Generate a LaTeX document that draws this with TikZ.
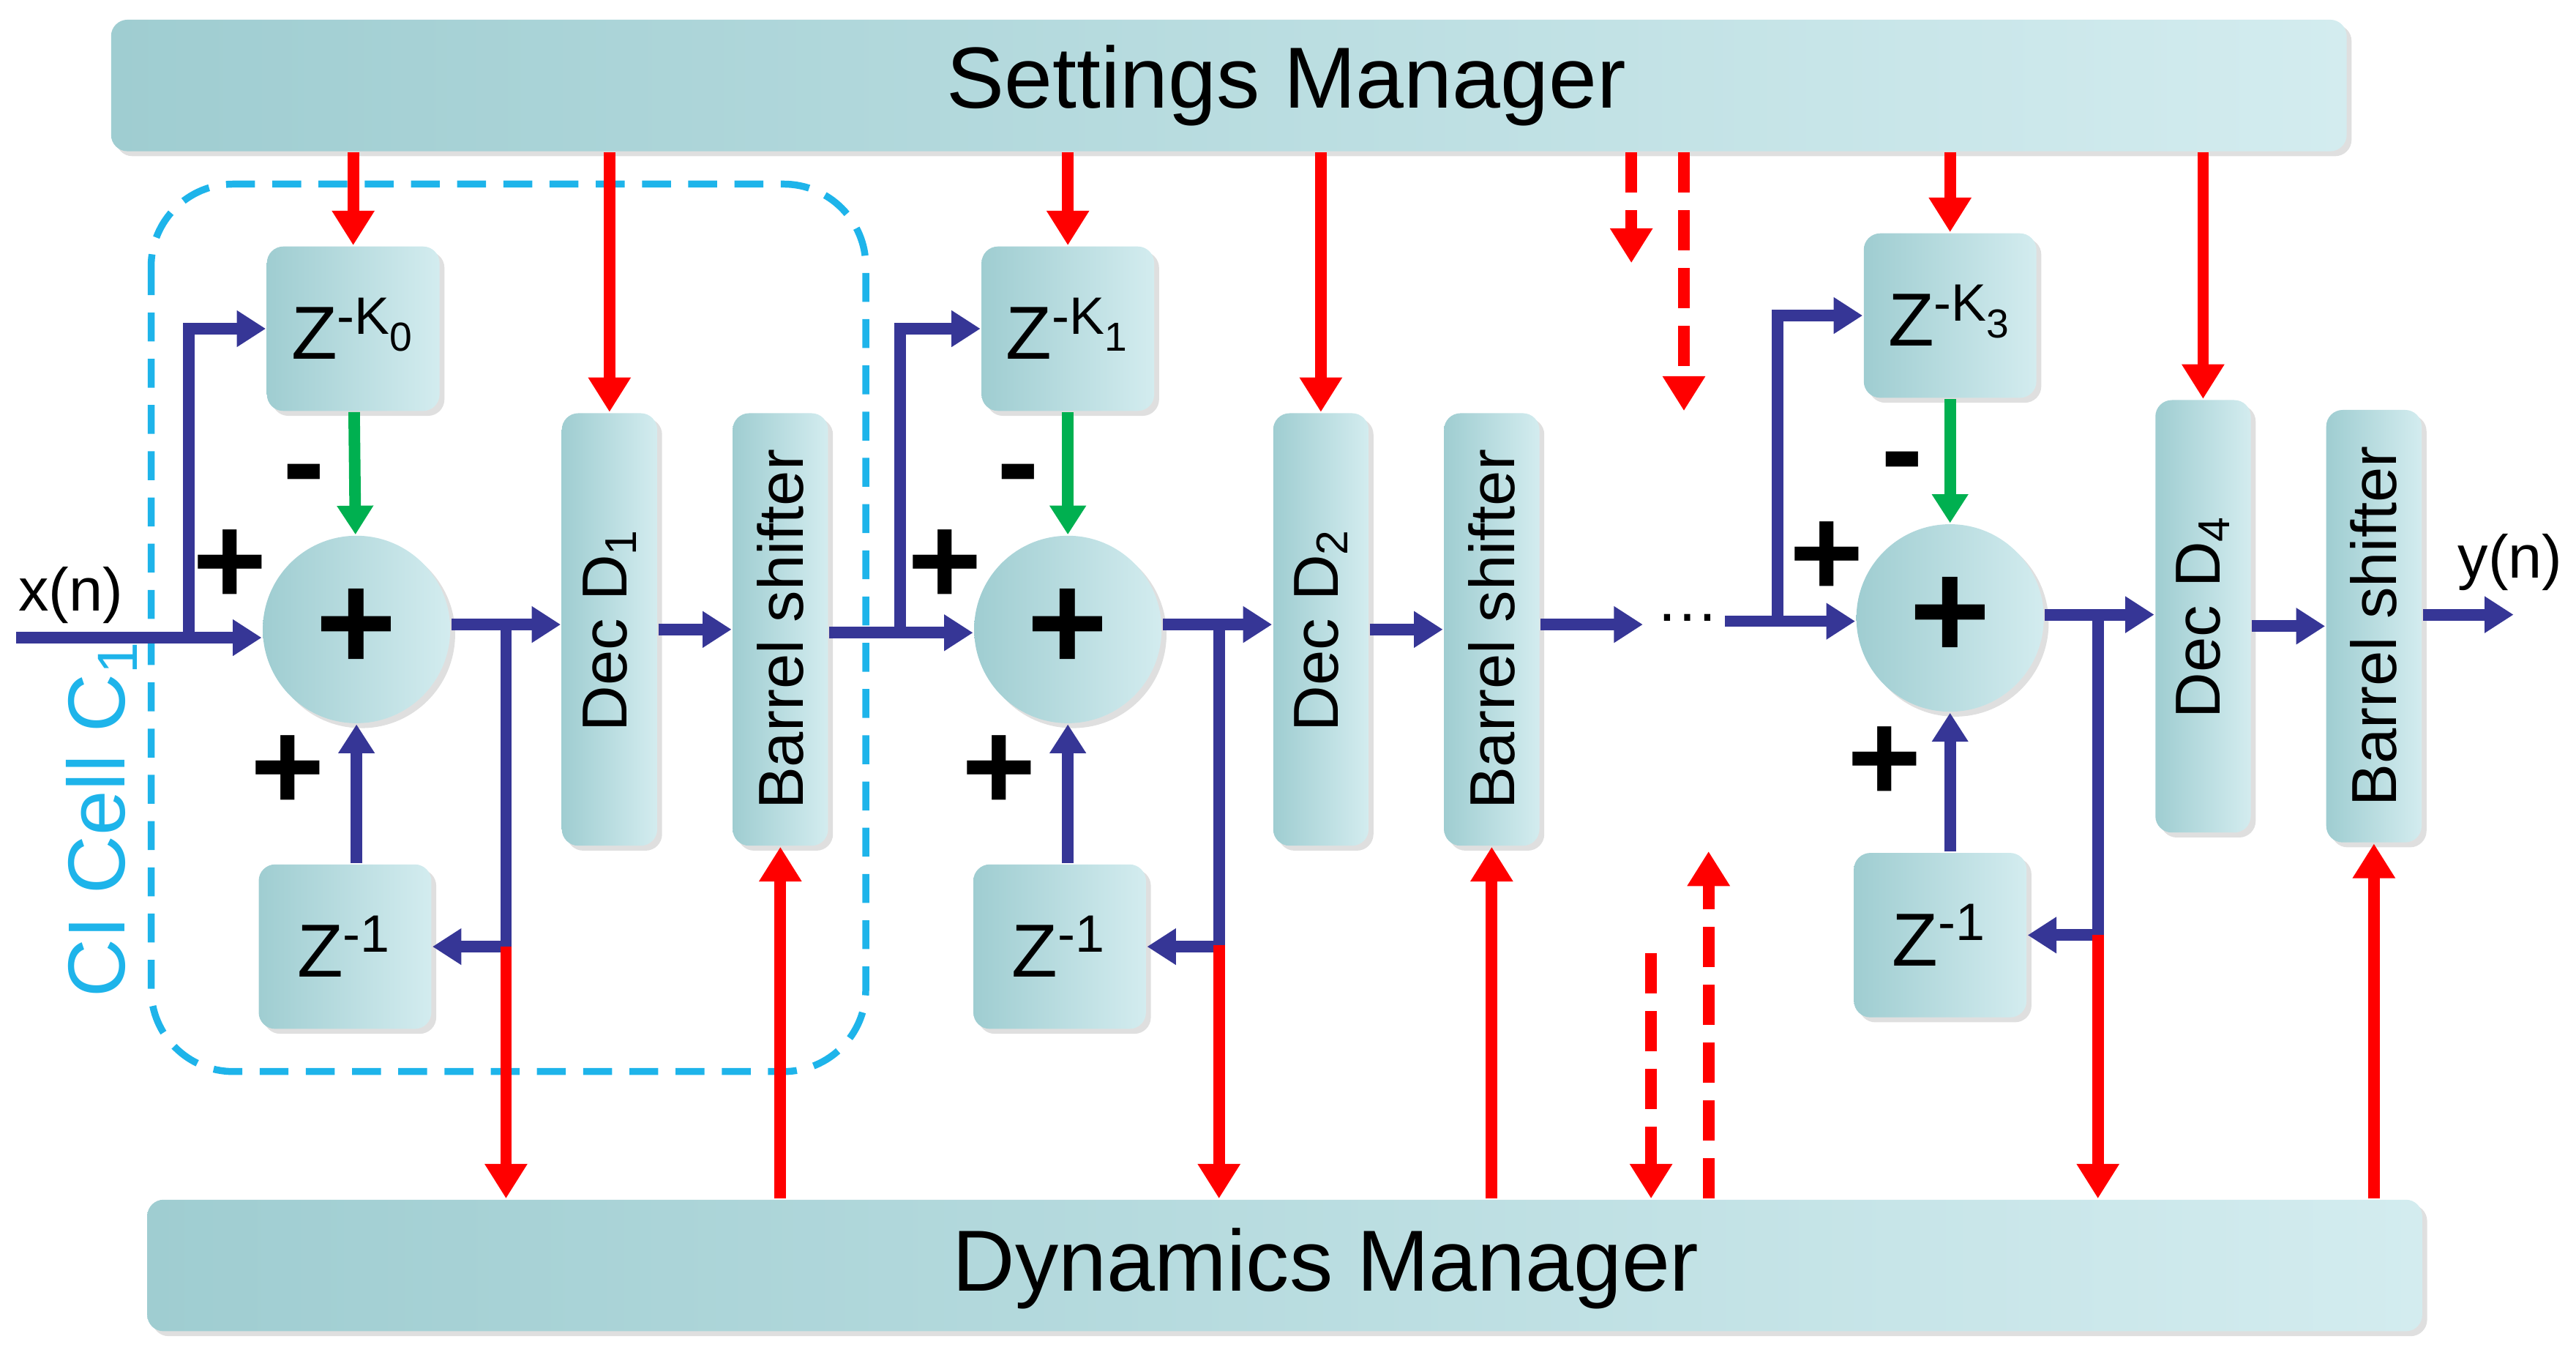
\documentclass[tikz,border=0pt]{standalone}
\usepackage{fontspec}
\setmainfont{Liberation Sans}
\usetikzlibrary{arrows.meta,shadows}
\begin{document}
\begin{tikzpicture}[x=0.01cm,y=-0.01cm,
 box/.style={rounded corners=0.1cm,left color=teal0,right color=teal1,draw=none,drop shadow={opacity=0.25,shadow xshift=0.03cm,shadow yshift=-0.03cm}},
 circ/.style={circle,shading=axis,left color=teal0,right color=teal1,minimum size=1.14cm,inner sep=0pt,font=\fontsize{24}{24}\selectfont\bfseries,drop shadow={opacity=0.25,shadow xshift=0.03cm,shadow yshift=-0.03cm}},
 zbox/.style={box,minimum width=1.05cm,minimum height=1.0cm,font=\fontsize{13}{13}\selectfont},
 vbox/.style={box,minimum width=0.58cm,minimum height=2.63cm},
 vtxt/.style={rotate=90,font=\fontsize{11}{11}\selectfont},
 blu/.style={draw=bluec,line width=2pt,-{Triangle[length=5pt,width=6pt]}},
 grn/.style={draw=greenc,line width=2pt,-{Triangle[length=5pt,width=6pt]}},
 red/.style={draw=red,line width=2pt,-{Triangle[length=6pt,width=7pt]}},
 redd/.style={red,dash pattern=on 7pt off 3pt},
 sgn/.style={font=\fontsize{22}{22}\selectfont\bfseries}]
\definecolor{teal0}{HTML}{9FCDD1}
\definecolor{teal1}{HTML}{D3ECEF}
\definecolor{bluec}{HTML}{363696}
\definecolor{greenc}{HTML}{00B050}
\definecolor{cyanc}{HTML}{1EB4EA}
\useasboundingbox (0,0) rectangle (1568,826);
% managers
\node[box,minimum width=13.6cm,minimum height=0.8cm] (sm) at (748,52) {};
\node[font=\fontsize{15}{15}\selectfont] (smt) at (783,52) {Settings Manager};
\node[box,minimum width=13.84cm,minimum height=0.8cm] (dm) at (782,770) {};
\node[font=\fontsize{15}{15}\selectfont] (dmt) at (807,772) {Dynamics Manager};
% dashed cell
\draw[cyanc,line width=1.2pt,dash pattern=on 5pt off 3pt,rounded corners=0.5cm] (92,112) rectangle (527,652);
\node[cyanc,rotate=90,font=\fontsize{14}{14}\selectfont] (cl) at (62,498) {CI Cell C\textsubscript{1}};
% cell 1
\node[zbox] (zk0) at (215,200) {Z\textsuperscript{-K\raisebox{-0.6ex}{\scriptsize 0}}};
\node[circ] (s1) at (217,383) {+};
\node[zbox] (zd1) at (210,576) {Z\textsuperscript{-1}};
\node[vbox] (d1) at (371,383) {}; \node[vtxt] (d1t) at (d1) {Dec D\textsubscript{1}};
\node[vbox] (b1) at (475,383) {}; \node[vtxt] (b1t) at (b1) {Barrel shifter};
% cell 2
\node[zbox] (zk1) at (650,200) {Z\textsuperscript{-K\raisebox{-0.6ex}{\scriptsize 1}}};
\node[circ] (s2) at (650,383) {+};
\node[zbox] (zd2) at (645,576) {Z\textsuperscript{-1}};
\node[vbox] (d2) at (804,383) {}; \node[vtxt] (d2t) at (d2) {Dec D\textsubscript{2}};
\node[vbox] (b2) at (908,383) {}; \node[vtxt] (b2t) at (b2) {Barrel shifter};
% cell 3
\node[zbox] (zk3) at (1187,192) {Z\textsuperscript{-K\raisebox{-0.6ex}{\scriptsize 3}}};
\node[circ] (s3) at (1187,376) {+};
\node[zbox] (zd3) at (1181,569) {Z\textsuperscript{-1}};
\node[vbox] (d3) at (1341,375) {}; \node[vtxt] (d3t) at (d3) {Dec D\textsubscript{4}};
\node[vbox] (b3) at (1445,381) {}; \node[vtxt] (b3t) at (b3) {Barrel shifter};
% signs
\foreach \n/\x/\y/\s in {p1/140/345/+,m1/185/295/-,q1/175/470/+,p2/575/345/+,m2/620/295/-,q2/608/470/+,p3/1112/340/+,m3/1158/287/-,q3/1147/465/+}
 \node[sgn] (\n) at (\x,\y) {\s};
% input
\coordinate (xin) at (10,388);
\node[font=\fontsize{10.5}{10.5}\selectfont] (xl) at (43,362) {x(n)};
\coordinate (br1) at (115,388);
\draw[blu] (xin) -- (s1.west|-xin);
\draw[blu] (br1) |- (zk0.west);
\draw[grn] (zk0) -- (s1);
\draw[blu] (zd1.north-|s1) -- (s1);
\coordinate (o1) at (308,380);
\draw[blu] (s1.east|-o1) -- (d1.west|-o1);
\draw[blu] (o1) |- (zd1.east);
\draw[red] (308,576) -- (dm.north-|o1);
\draw[blu] (d1) -- (b1);
\draw[red] (sm.south-|zk0) -- (zk0);
\draw[red] (sm.south-|d1) -- (d1.north);
\draw[red] (dm.north-|b1) -- (b1.south);
% cell 2 links
\coordinate (i2) at (548,385);
\draw[blu] (b1.east|-i2) -- (s2.west|-i2);
\draw[blu] (i2) |- (zk1.west);
\draw[grn] (zk1) -- (s2);
\draw[blu] (zd2.north-|s2) -- (s2);
\coordinate (o2) at (742,380);
\draw[blu] (s2.east|-o2) -- (d2.west|-o2);
\draw[blu] (o2) |- (zd2.east);
\draw[red] (742,575) -- (dm.north-|o2);
\draw[blu] (d2) -- (b2);
\draw[red] (sm.south-|zk1) -- (zk1);
\draw[red] (sm.south-|d2) -- (d2.north);
\draw[red] (dm.north-|b2) -- (b2.south);
% middle
\coordinate (e2) at (1000,380);
\draw[blu] (b2.east|-e2) -- (e2);
\node[font=\fontsize{11}{11}\selectfont] (dots) at (1027,376) {\dots};
\coordinate (i3s) at (1050,378);
\coordinate (i3) at (1082,378);
\draw[blu] (i3s) -- (s3.west|-i3);
\draw[blu] (i3) |- (zk3.west);
\coordinate (ra) at (993,160); \coordinate (rb) at (1025,250);
\coordinate (rc) at (1005,580); \coordinate (rd) at (1040,518);
\draw[redd] (sm.south-|ra) -- (ra);
\draw[redd] (sm.south-|rb) -- (rb);
\draw[redd] (rc) -- (dm.north-|rc);
\draw[redd] (dm.north-|rd) -- (rd);
% cell 3 links
\draw[grn] (zk3) -- (s3);
\draw[blu] (zd3.north-|s3) -- (s3);
\coordinate (o3) at (1277,374);
\draw[blu] (s3.east|-o3) -- (d3.west|-o3);
\draw[blu] (o3) |- (zd3.east);
\draw[red] (1277,569) -- (dm.north-|o3);
\draw[blu] (d3.east|-b3) -- (b3.west|-b3);
\draw[red] (sm.south-|zk3) -- (zk3);
\draw[red] (sm.south-|d3) -- (d3.north);
\draw[red] (dm.north-|b3) -- (b3.south);
\coordinate (yo) at (1530,374);
\draw[blu] (b3.east|-yo) -- (yo);
\node[font=\fontsize{10.5}{10.5}\selectfont] (yl) at (1528,342) {y(n)};
\end{tikzpicture}
\end{document}
